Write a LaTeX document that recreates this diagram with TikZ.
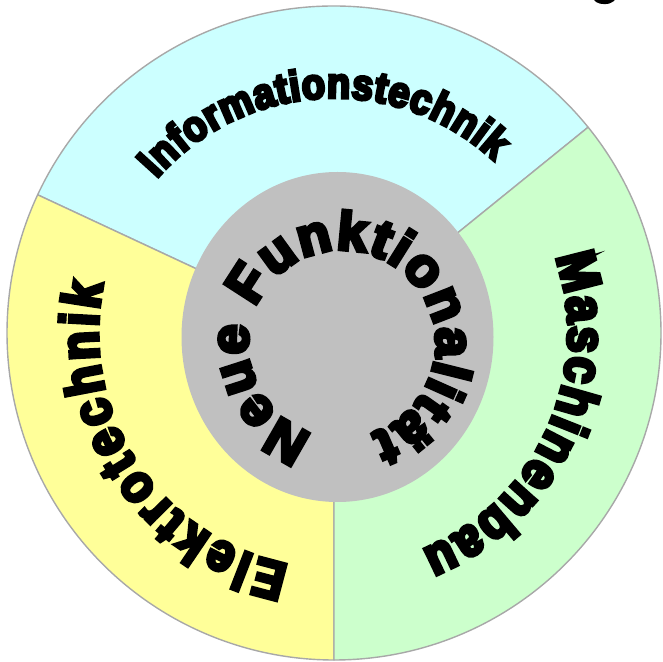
\documentclass[tikz,border=0pt]{standalone}
\usepackage{fontspec}
\usetikzlibrary{decorations.text}
\newfontfamily\heavy{Liberation Sans}[UprightFont={* Bold}, FakeBold=7, FakeStretch=0.88]
\newfontfamily\heavywide{Liberation Sans}[UprightFont={* Bold}, FakeBold=7]
\definecolor{itfill}{HTML}{CCFFFF}
\definecolor{etfill}{HTML}{FFFF99}
\definecolor{mbfill}{HTML}{CCFFCC}
\definecolor{corefill}{HTML}{C0C0C0}
\definecolor{edge}{HTML}{A8A8A8}
\tikzset{
  sector/.style={draw=edge, line width=1.4pt, line join=round},
  ringtext/.style={decorate, decoration={text along path, text align=fit to path, text={#1}}}
}
\begin{document}
\begin{tikzpicture}[x=1pt, y=1pt]
\useasboundingbox (0,0) rectangle (662,662);
\coordinate (C) at (334,329);
\coordinate (K) at (342,318);
% three sectors of the outer ring
\filldraw[sector, fill=itfill] (C) -- ++(39:327) arc[start angle=39, end angle=155, radius=327] -- cycle;
\filldraw[sector, fill=etfill] (C) -- ++(155:327) arc[start angle=155, end angle=270, radius=327] -- cycle;
\filldraw[sector, fill=mbfill] (C) -- ++(270:327) arc[start angle=270, end angle=399, radius=327] -- cycle;
% grey core
\fill[corefill] (337.5,325) ellipse[x radius=156, y radius=165];
% labels along the ring
\path[ringtext={|\heavy\fontsize{43}{43}\selectfont|Informationstechnik}]
  (C) ++(139:235) arc[start angle=139, end angle=47, radius=235];
\path[ringtext={|\heavy\fontsize{54}{54}\selectfont|Maschinenbau}]
  (C) ++(19:234) arc[start angle=19, end angle=-68, radius=234];
\path[ringtext={|\heavy\fontsize{54}{54}\selectfont|Elektrotechnik}]
  (C) ++(259:236) arc[start angle=259, end angle=168, radius=236];
\path[ringtext={|\heavywide\fontsize{54}{54}\selectfont|Neue Funktionalität}]
  (K) ++(252:94) arc[start angle=252, end angle=-72, radius=94];
% descender of a heading above the frame
\begin{scope}
\clip (0,0) rectangle (662,662);
\node[anchor=base, inner sep=0pt, font=\heavywide\fontsize{45}{45}\selectfont] (g) at (605,669) {g};
\end{scope}
\end{tikzpicture}
\end{document}
